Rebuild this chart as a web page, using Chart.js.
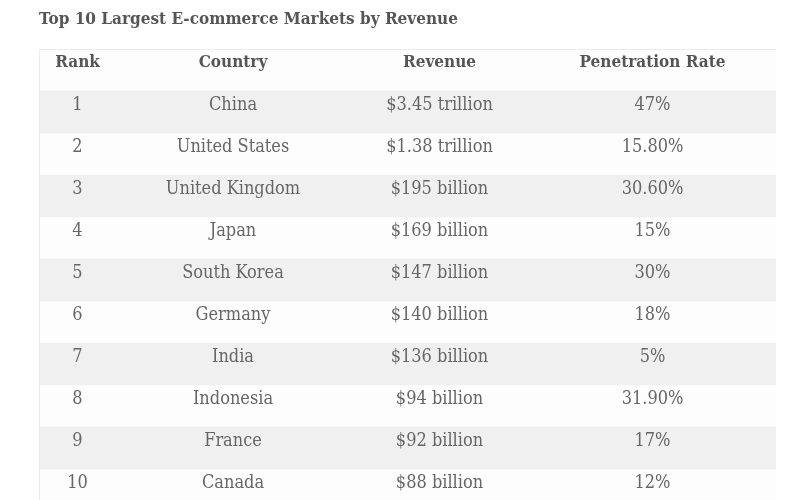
<!DOCTYPE html>
<html>
<head>
<meta charset="utf-8">
<script src="https://cdn.jsdelivr.net/npm/chart.js@4.4.1/dist/chart.umd.min.js"></script>
<style>
  html, body { margin: 0; padding: 0; background: #ffffff; overflow: hidden; }
  #wrap { width: 800px; height: 520px; overflow: hidden; }
</style>
</head>
<body>
<div id="wrap"><canvas id="c" width="800" height="520"></canvas></div>
<script>
// ---- data ----
const titleText = "Top 10 Largest E-commerce Markets by Revenue";
const headers = ["Rank", "Country", "Revenue", "Penetration Rate"];
const ranks = ["1", "2", "3", "4", "5", "6", "7", "8", "9", "10"];
const countries = ["China", "United States", "United Kingdom", "Japan", "South Korea", "Germany", "India", "Indonesia", "France", "Canada"];
const revenues = ["$3.45 trillion", "$1.38 trillion", "$195 billion", "$169 billion", "$147 billion", "$140 billion", "$136 billion", "$94 billion", "$92 billion", "$88 billion"];
const penetrationRates = ["47%", "15.80%", "30.60%", "15%", "30%", "18%", "5%", "31.90%", "17%", "12%"];

// ---- layout (not data) ----
const TABLE_W = 737;
const colEdges = [0, 77, 311, 490, TABLE_W];
const FONT = "'DejaVu Serif Condensed', 'DejaVu Serif', serif";

const rowLabels = ["header"].concat(ranks);
const columns = [ranks, countries, revenues, penetrationRates];

// shaded (striped) rows: odd data rows
const stripeData = rowLabels.map((r, i) => (i > 0 && i % 2 === 1) ? [0, TABLE_W] : null);
const plainData = rowLabels.map((r, i) => (i === 0 || i % 2 === 0) ? [0, TABLE_W] : null);

const tableText = {
  id: 'tableText',
  afterDatasetsDraw(chart) {
    const ctx = chart.ctx;
    const xs = chart.scales.x, ys = chart.scales.y;
    const area = chart.chartArea;
    const rowH = ys.getPixelForValue(1) - ys.getPixelForValue(0);
    ctx.save();
    // borders (top & left)
    ctx.strokeStyle = '#ececec';
    ctx.lineWidth = 1;
    ctx.beginPath();
    ctx.moveTo(area.left + 0.5, area.bottom);
    ctx.lineTo(area.left + 0.5, area.top + 0.5);
    ctx.lineTo(area.right, area.top + 0.5);
    ctx.stroke();

    ctx.textAlign = 'center';
    ctx.textBaseline = 'middle';
    const centers = colEdges.slice(0, -1).map((e, j) => (e + colEdges[j + 1]) / 2);
    // header
    ctx.font = "bold 17px " + FONT;
    ctx.fillStyle = '#555555';
    const hTop = ys.getPixelForValue(0) - rowH / 2;
    headers.forEach((h, j) => ctx.fillText(h, xs.getPixelForValue(centers[j]), hTop + 14));
    // body
    ctx.font = "18px " + FONT;
    ctx.fillStyle = '#666666';
    for (let i = 0; i < ranks.length; i++) {
      const top = ys.getPixelForValue(i + 1) - rowH / 2;
      columns.forEach((col, j) => ctx.fillText(col[i], xs.getPixelForValue(centers[j]), top + 14));
    }
    ctx.restore();
  }
};

new Chart(document.getElementById('c'), {
  type: 'bar',
  data: {
    labels: rowLabels,
    datasets: [
      { data: stripeData, backgroundColor: '#f0f0f0', borderWidth: 0, categoryPercentage: 1, barPercentage: 1, grouped: false },
      { data: plainData, backgroundColor: '#fdfdfd', borderWidth: 0, categoryPercentage: 1, barPercentage: 1, grouped: false }
    ]
  },
  options: {
    indexAxis: 'y',
    responsive: false,
    animation: false,
    devicePixelRatio: 1,
    layout: { padding: { left: 39, right: 24, top: 0, bottom: 9 } },
    scales: {
      x: { type: 'linear', min: 0, max: TABLE_W, display: false },
      y: { type: 'category', display: false, offset: true }
    },
    plugins: {
      legend: { display: false },
      tooltip: { enabled: false },
      title: {
        display: true,
        text: titleText,
        align: 'start',
        color: '#555555',
        font: { family: FONT, size: 17, weight: 'bold', lineHeight: 1.2 },
        padding: { top: 9, bottom: 19.6 }
      }
    }
  },
  plugins: [tableText]
});
</script>
</body>
</html>
